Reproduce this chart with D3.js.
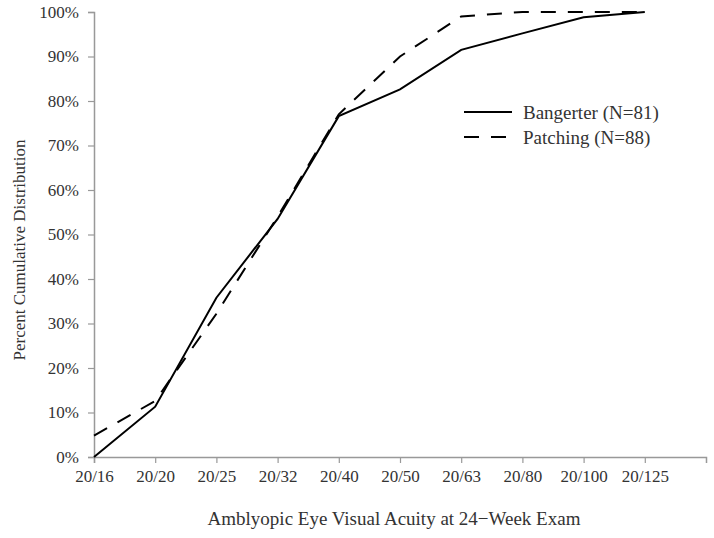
<!DOCTYPE html>
<html>
<head>
<meta charset="utf-8">
<script src="https://cdn.jsdelivr.net/npm/d3@7"></script>
<style>
  body { margin: 0; background: #fff; }
  text { font-family: "Liberation Serif", "DejaVu Serif", serif; fill: #333; }
</style>
</head>
<body>
<div id="chart"></div>
<script>
"use strict"

const acuities = ["20/16", "20/20", "20/25", "20/32", "20/40", "20/50", "20/63", "20/80", "20/100", "20/125"];
const bangerter = [0, 11.3, 35.8, 53.5, 76.6, 82.6, 91.5, 95.2, 98.8, 100];
const patching = [4.8, 12.6, 32.2, 54.0, 77.0, 90.0, 99.0, 100, 100, 100];
const yTicks = [0, 10, 20, 30, 40, 50, 60, 70, 80, 90, 100];
const legendItems = [
  {name: "Bangerter (N=81)", dash: null},
  {name: "Patching (N=88)", dash: "15,12"}
];

const width = 714, height = 538;
const plot = {left: 94, right: 706, top: 12, bottom: 457};

const svg = d3.select("#chart").append("svg")
  .attr("width", width)
  .attr("height", height);

// index scale, one extra slot on the right like the original
const x = d3.scaleLinear().domain([0, acuities.length]).range([plot.left, plot.right]);
const y = d3.scaleLinear().domain([0, 100]).range([plot.bottom, plot.top]);

// x axis
const xAxis = svg.append("g")
  .attr("transform", `translate(0,${plot.bottom})`)
  .call(d3.axisBottom(x)
    .tickValues(d3.range(acuities.length))
    .tickFormat((i) => acuities[i])
    .tickSizeOuter(0)
    .tickSize(6)
    .tickPadding(7));

// y axis
const yAxis = svg.append("g")
  .attr("transform", `translate(${plot.left},0)`)
  .call(d3.axisLeft(y)
    .tickValues(yTicks)
    .tickFormat((d) => d + "%")
    .tickSizeOuter(0)
    .tickSize(6)
    .tickPadding(9));

[xAxis, yAxis].forEach((g) => {
  g.select(".domain").attr("stroke", "#999").attr("stroke-width", 1.5);
  g.selectAll(".tick line").attr("stroke", "#999").attr("stroke-width", 1.2);
  g.selectAll(".tick text")
    .attr("fill", "#333")
    .style("font-family", "Liberation Serif, serif")
    .style("font-size", "17px");
});

// lines
const line = d3.line()
  .x((d, i) => x(i))
  .y((d) => y(d));

svg.append("path")
  .datum(bangerter)
  .attr("fill", "none")
  .attr("stroke", "#000")
  .attr("stroke-width", 2)
  .attr("d", line);

svg.append("path")
  .datum(patching)
  .attr("fill", "none")
  .attr("stroke", "#000")
  .attr("stroke-width", 2)
  .attr("stroke-dasharray", "15,12")
  .attr("d", line);

// legend
const legend = svg.append("g")
  .attr("transform", "translate(464,112)");

legend.selectAll("line")
  .data(legendItems)
  .enter()
  .append("line")
    .attr("x1", 0)
    .attr("x2", (d) => d.dash ? 42 : 48)
    .attr("y1", (d, i) => i * 25)
    .attr("y2", (d, i) => i * 25)
    .attr("stroke", "#000")
    .attr("stroke-width", 2)
    .attr("stroke-dasharray", (d) => d.dash);

legend.selectAll("text")
  .data(legendItems)
  .enter()
  .append("text")
    .attr("x", 59)
    .attr("y", (d, i) => i * 25 + 7)
    .style("font-size", "19px")
    .text((d) => d.name);

// axis titles
svg.append("text")
  .attr("x", (plot.left + plot.right) / 2 - 6)
  .attr("y", 525)
  .attr("text-anchor", "middle")
  .style("font-size", "19px")
  .text("Amblyopic Eye Visual Acuity at 24\u2212Week Exam");

svg.append("text")
  .attr("transform", "translate(25,250) rotate(-90)")
  .attr("text-anchor", "middle")
  .style("font-size", "17px")
  .text("Percent Cumulative Distribution");
</script>
</body>
</html>
